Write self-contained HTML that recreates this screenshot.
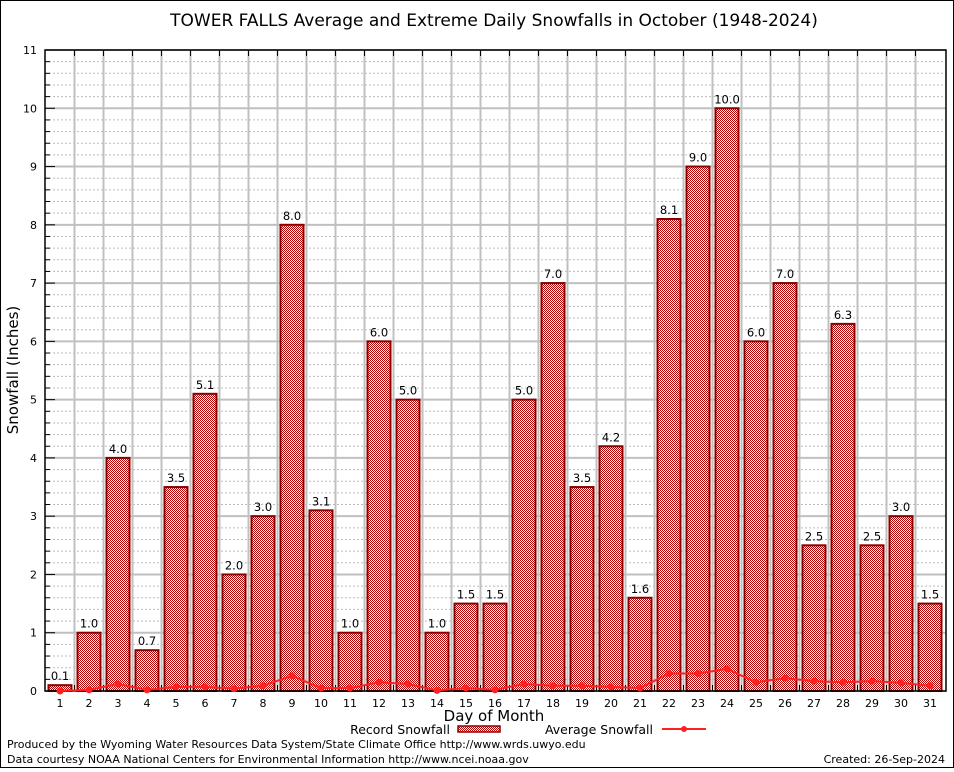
<!DOCTYPE html>
<html><head><meta charset="utf-8"><style>
body{margin:0;background:#fff;font-family:"DejaVu Sans","Liberation Sans",sans-serif}
svg text{font-family:"DejaVu Sans","Liberation Sans",sans-serif}
</style></head><body>
<svg id="c" width="954" height="768" viewBox="0 0 954 768">
<defs>
<pattern id="chk" width="2" height="2" patternUnits="userSpaceOnUse">
<rect width="2" height="2" fill="#fff"/><rect x="0" y="0" width="1" height="1" fill="#b40000"/><rect x="1" y="1" width="1" height="1" fill="#b40000"/>
</pattern>
</defs>
<rect x="0.5" y="0.5" width="953" height="767" fill="#fff" stroke="#000"/>
<text x="494" y="26" font-size="17" text-anchor="middle">TOWER FALLS Average and Extreme Daily Snowfalls in October (1948-2024)</text>
<g id="plot"></g>
<text x="18" y="370" font-size="15" text-anchor="middle" transform="rotate(-90 18 370)">Snowfall (Inches)</text>
<text x="494" y="721" font-size="15" text-anchor="middle">Day of Month</text>
<g>
<text x="450" y="734" font-size="12.5" text-anchor="end">Record Snowfall</text>
<rect x="458" y="726" width="42" height="6" fill="url(#chk)" stroke="#8b0000" stroke-width="1.5"/>
<text x="653" y="734" font-size="12.5" text-anchor="end">Average Snowfall</text>
<line x1="662" y1="729" x2="706" y2="729" stroke="#ff2020" stroke-width="2"/>
<circle cx="684" cy="729" r="3" fill="#ff2020"/>
</g>
<text x="7" y="748" font-size="11">Produced by the Wyoming Water Resources Data System/State Climate Office http://www.wrds.uwyo.edu</text>
<text x="7" y="763" font-size="11">Data courtesy NOAA National Centers for Environmental Information http://www.ncei.noaa.gov</text>
<text x="945" y="763" font-size="11" text-anchor="end">Created: 26-Sep-2024</text>
</svg>
<script>
const days=[1,2,3,4,5,6,7,8,9,10,11,12,13,14,15,16,17,18,19,20,21,22,23,24,25,26,27,28,29,30,31];
const recordSnow=[0.1,1.0,4.0,0.7,3.5,5.1,2.0,3.0,8.0,3.1,1.0,6.0,5.0,1.0,1.5,1.5,5.0,7.0,3.5,4.2,1.6,8.1,9.0,10.0,6.0,7.0,2.5,6.3,2.5,3.0,1.5];
const avgSnow=[0.0,0.02,0.12,0.02,0.07,0.07,0.04,0.09,0.26,0.05,0.05,0.15,0.12,0.01,0.05,0.02,0.12,0.09,0.09,0.07,0.05,0.3,0.3,0.38,0.15,0.22,0.17,0.15,0.17,0.14,0.09];
const yTicks=[0,1,2,3,4,5,6,7,8,9,10,11];
const NS="http://www.w3.org/2000/svg";
const L=45,R=946,T=50,B=691;
const X=d=>60+(d-1)*29;
const Y=v=>B-(v/11)*(B-T);
const g=document.getElementById('plot');
function mk(t,a,p){const e=document.createElementNS(NS,t);for(const k in a)e.setAttribute(k,a[k]);(p||g).appendChild(e);return e;}
const bg=mk('rect',{x:L,y:T,width:R-L,height:B-T,fill:'#fff'});


for(let v=0;v<11;v+=0.2){const y=Y(v);mk('line',{x1:L,x2:R,y1:y,y2:y,stroke:'#bbb','stroke-dasharray':'2,2','stroke-width':1});}
yTicks.forEach(v=>{const y=Y(v);
const gl=mk('line',{x1:L,x2:R,y1:y,y2:y,stroke:'#c0c0c0','stroke-width':2});


const t=mk('text',{x:L-8,y:y+4,'font-size':11,'text-anchor':'end','font-family':'Liberation Serif,serif'});t.textContent=v;


for(let k=1;k<5&&v<11;k++){mk('line',{x1:L,x2:L+5,y1:Y(v+k*0.2),y2:Y(v+k*0.2),stroke:'#000'});}
mk('line',{x1:L,x2:L+10,y1:y,y2:y,stroke:'#000'});
});
days.forEach((d,i)=>{if(i<days.length-1){const x=X(d)+14.5;
const vl=mk('line',{x1:x,x2:x,y1:T,y2:B,stroke:'#c0c0c0','stroke-width':2});


mk('line',{x1:x,x2:x,y1:T,y2:T+6,stroke:'#000'});mk('line',{x1:x,x2:x,y1:B,y2:B-6,stroke:'#000'});}});
days.forEach((d,i)=>{const v=recordSnow[i];const x=X(d);
const b=mk('rect',{x:x-11.5,y:Y(v),width:23,height:B-Y(v),fill:'url(#chk)',stroke:'#8b0000','stroke-width':2});


const t=mk('text',{x:x,y:Y(v)-5,'font-size':11.5,'text-anchor':'middle'});t.textContent=v.toFixed(1);


const xl=mk('text',{x:x,y:B+16,'font-size':11,'text-anchor':'middle','font-family':'Liberation Serif,serif'});xl.textContent=d;


});
const ax=mk('rect',{x:L,y:T,width:R-L,height:B-T,fill:'none',stroke:'#000','stroke-width':1.5});


const pl=mk('polyline',{points:days.map((d,i)=>X(d)+','+Y(avgSnow[i])).join(' '),fill:'none',stroke:'#ff2020','stroke-width':2});


days.forEach((d,i)=>{const c=mk('circle',{cx:X(d),cy:Y(avgSnow[i]),r:3.5,fill:'#ff2020'});

});
</script>
</body></html>
